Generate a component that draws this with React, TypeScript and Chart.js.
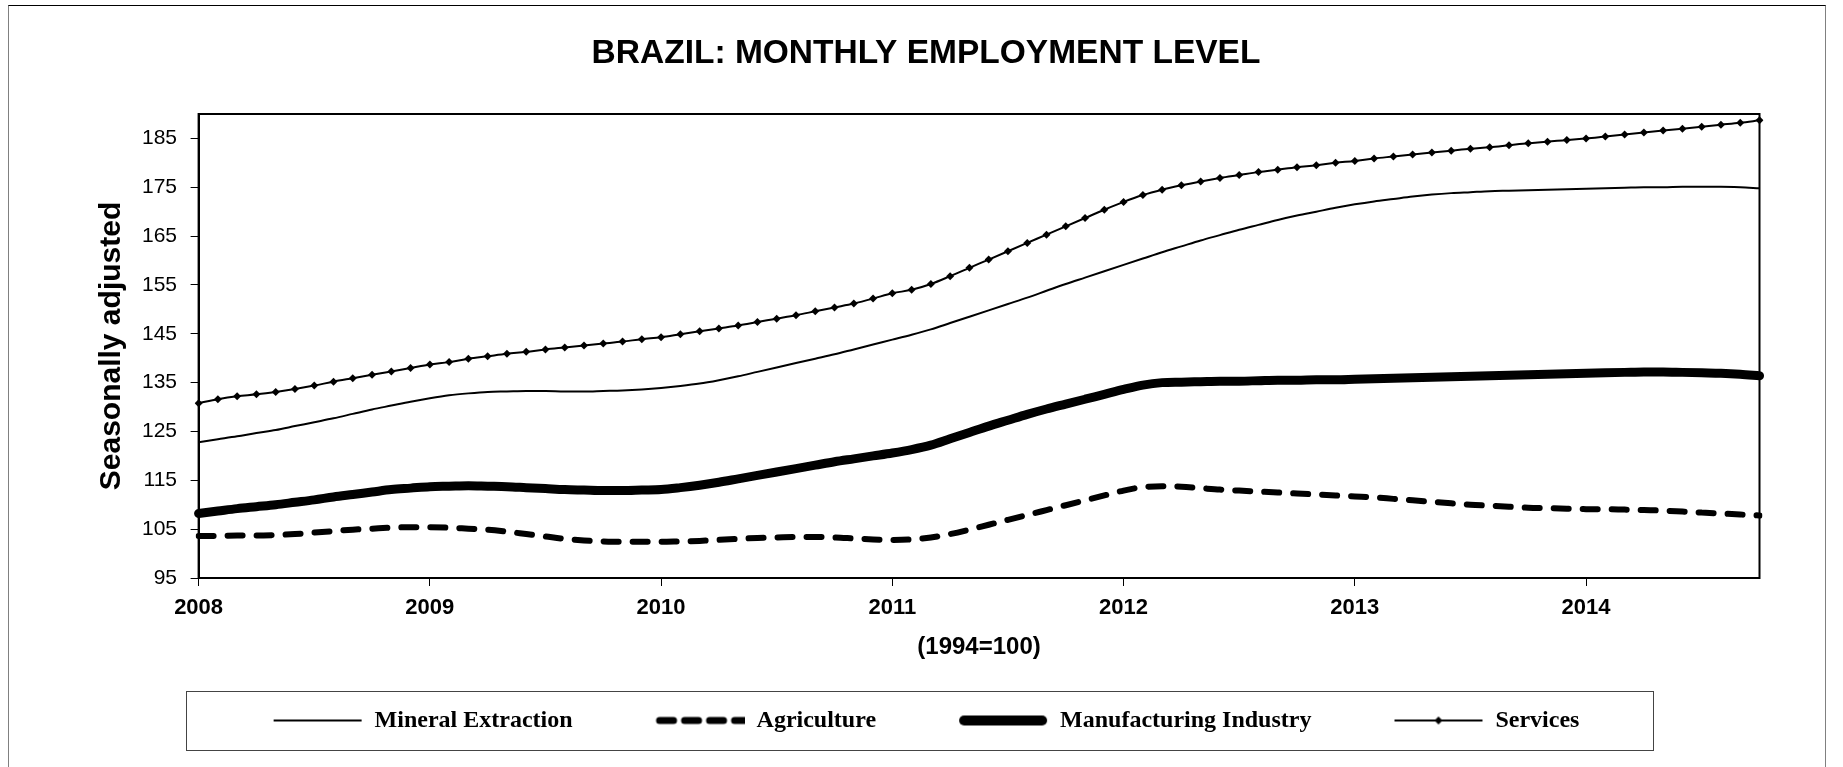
import React, { useEffect, useRef } from 'react';
import { Chart, registerables } from 'chart.js';

Chart.register(...registerables);

const TITLE = 'BRAZIL: MONTHLY EMPLOYMENT LEVEL';
const Y_TITLE = 'Seasonally adjusted';
const X_TITLE = '(1994=100)';

const years = [2008, 2009, 2010, 2011, 2012, 2013, 2014];
const monthCodes = ['01', '02', '03', '04', '05', '06', '07', '08', '09', '10', '11', '12'];
// Monthly categories Jan 2008 .. Oct 2014 (82 months)
const categories: string[] = years
  .flatMap((y) => monthCodes.map((m) => `${y}-${m}`))
  .slice(0, 82);

const yTicks = [95, 105, 115, 125, 135, 145, 155, 165, 175, 185];

const seriesNames = ['Mineral Extraction', 'Agriculture', 'Manufacturing Industry', 'Services'];

const mineral = [
  122.8, 123.4, 124.0, 124.7, 125.3, 126.1, 126.9, 127.7, 128.6, 129.5, 130.3, 131.1,
  131.8, 132.4, 132.8, 133.1, 133.2, 133.3, 133.3, 133.2, 133.2, 133.3, 133.4, 133.6,
  133.9, 134.3, 134.8, 135.5, 136.3, 137.2, 138.1, 139.0, 139.9, 140.8, 141.8, 142.8,
  143.8, 144.8, 145.9, 147.2, 148.5, 149.8, 151.1, 152.4, 153.8, 155.2, 156.5, 157.8,
  159.1, 160.4, 161.7, 162.9, 164.1, 165.2, 166.3, 167.3, 168.3, 169.2, 170.0, 170.8,
  171.5, 172.1, 172.6, 173.1, 173.5, 173.8, 174.0, 174.2, 174.3, 174.4, 174.5, 174.6,
  174.7, 174.8, 174.9, 175.0, 175.0, 175.1, 175.1, 175.1, 175.0, 174.8,
];

const agriculture = [
  103.6, 103.6, 103.7, 103.7, 103.8, 104.0, 104.3, 104.6, 104.9, 105.1, 105.3, 105.4,
  105.4, 105.3, 105.1, 104.9, 104.5, 104.0, 103.5, 103.0, 102.7, 102.5, 102.4, 102.4,
  102.4, 102.5, 102.6, 102.8, 103.0, 103.2, 103.3, 103.4, 103.4, 103.3, 103.1, 102.9,
  102.8, 102.9, 103.3, 104.0, 104.9, 105.9, 106.9, 107.9, 108.9, 109.9, 110.9, 111.9,
  112.9, 113.6, 113.8, 113.7, 113.4, 113.1, 112.9, 112.7, 112.5, 112.3, 112.1, 111.9,
  111.7, 111.5, 111.2, 110.9, 110.6, 110.3, 110.0, 109.8, 109.6, 109.4, 109.3, 109.2,
  109.1, 109.1, 109.0, 108.9, 108.8, 108.6, 108.4, 108.2, 108.0, 107.8,
];

const manufacturing = [
  108.2, 108.7, 109.2, 109.6, 110.0, 110.5, 111.0, 111.6, 112.1, 112.6, 113.1, 113.4,
  113.7, 113.8, 113.9, 113.8, 113.7, 113.5, 113.3, 113.1, 113.0, 112.9, 112.9, 113.0,
  113.1, 113.5, 114.0, 114.6, 115.3, 116.0, 116.7, 117.4, 118.1, 118.8, 119.4, 120.0,
  120.6, 121.3, 122.2, 123.5, 124.8, 126.1, 127.3, 128.5, 129.6, 130.6, 131.6, 132.6,
  133.6, 134.5, 135.0, 135.1, 135.2, 135.3, 135.3, 135.4, 135.5, 135.5, 135.6, 135.6,
  135.7, 135.8, 135.9, 136.0, 136.1, 136.2, 136.3, 136.4, 136.5, 136.6, 136.7, 136.8,
  136.9, 137.0, 137.1, 137.2, 137.2, 137.1, 137.0, 136.9, 136.7, 136.4,
];

const services = [
  130.8, 131.6, 132.2, 132.6, 133.1, 133.7, 134.4, 135.2, 135.9, 136.6, 137.3, 138.0,
  138.7, 139.2, 139.9, 140.4, 140.9, 141.3, 141.8, 142.2, 142.6, 143.0, 143.4, 143.9,
  144.3, 144.9, 145.5, 146.1, 146.7, 147.4, 148.1, 148.8, 149.6, 150.4, 151.2, 152.2,
  153.3, 154.0, 155.2, 156.8, 158.5, 160.2, 161.9, 163.6, 165.3, 167.0, 168.7, 170.4,
  172.0, 173.4, 174.5, 175.4, 176.2, 176.9, 177.5, 178.1, 178.6, 179.1, 179.5, 180.0,
  180.4, 180.9, 181.3, 181.7, 182.1, 182.5, 182.9, 183.2, 183.6, 184.0, 184.3, 184.7,
  185.0, 185.4, 185.8, 186.2, 186.6, 187.0, 187.4, 187.8, 188.2, 188.7,
];

const SANS = '"Liberation Sans", Arial, Helvetica, sans-serif';
const SERIF = '"Liberation Serif", "Times New Roman", Times, serif';

const SAMPLE_LEN = 90;
const LEGEND_GAP = 82;

function makeSample(kind: number): HTMLCanvasElement {
  const c = document.createElement('canvas');
  c.width = SAMPLE_LEN;
  c.height = 16;
  const g = c.getContext('2d') as CanvasRenderingContext2D;
  g.strokeStyle = '#000';
  g.fillStyle = '#000';
  const y = 8;
  const x0 = 1;
  const x1 = SAMPLE_LEN - 1;
  g.beginPath();
  if (kind === 0) {
    g.lineWidth = 2;
    g.moveTo(x0, y);
    g.lineTo(x1, y);
    g.stroke();
  } else if (kind === 1) {
    g.lineWidth = 7;
    g.lineCap = 'round';
    g.setLineDash([14, 11]);
    g.moveTo(x0 + 4, y);
    g.lineTo(x1, y);
    g.stroke();
  } else if (kind === 2) {
    g.lineWidth = 10;
    g.lineCap = 'round';
    g.moveTo(x0 + 5, y);
    g.lineTo(x1 - 5, y);
    g.stroke();
  } else {
    g.lineWidth = 2;
    g.moveTo(x0, y);
    g.lineTo(x1, y);
    g.stroke();
    const cx = (x0 + x1) / 2;
    g.beginPath();
    g.moveTo(cx - 4, y);
    g.lineTo(cx, y - 4);
    g.lineTo(cx + 4, y);
    g.lineTo(cx, y + 4);
    g.closePath();
    g.fill();
  }
  return c;
}

const boxPlugin = {
  id: 'boxPlugin',
  afterDraw(chart: any) {
    const { ctx, chartArea: a } = chart;
    ctx.save();
    ctx.strokeStyle = '#000';
    ctx.lineWidth = 2;
    ctx.strokeRect(a.left, a.top, a.right - a.left, a.bottom - a.top);
    const lg = chart.legend;
    if (lg && lg.legendHitBoxes && lg.legendHitBoxes.length) {
      const hb = lg.legendHitBoxes;
      const left = Math.min(...hb.map((b: any) => b.left)) - 87;
      const right = Math.max(...hb.map((b: any) => b.left + b.width)) + 73;
      const cy = hb[0].top + hb[0].height / 2;
      ctx.lineWidth = 1;
      ctx.strokeStyle = '#444';
      ctx.strokeRect(Math.round(left) + 0.5, Math.round(cy - 29.5) + 0.5, Math.round(right - left), 59);
    }
    ctx.restore();
  },
};

export default function App() {
  const ref = useRef<HTMLCanvasElement | null>(null);

  useEffect(() => {
    if (!ref.current) return;
    const samples = [0, 1, 2, 3].map(makeSample);
    const chart = new Chart(ref.current, {
      type: 'line',
      data: {
        labels: categories,
        datasets: [
          {
            label: seriesNames[0],
            data: mineral,
            borderColor: '#000',
            backgroundColor: '#000',
            borderWidth: 2,
            pointRadius: 0,
            cubicInterpolationMode: 'monotone',
            yAxisID: 'y',
          },
          {
            label: seriesNames[1],
            data: agriculture,
            borderColor: '#000',
            backgroundColor: '#000',
            borderWidth: 6,
            borderDash: [15, 14],
            borderCapStyle: 'round',
            pointRadius: 0,
            cubicInterpolationMode: 'monotone',
            yAxisID: 'y',
          },
          {
            label: seriesNames[2],
            data: manufacturing,
            borderColor: '#000',
            backgroundColor: '#000',
            borderWidth: 9,
            borderCapStyle: 'round',
            pointRadius: 0,
            cubicInterpolationMode: 'monotone',
            yAxisID: 'y',
          },
          {
            label: seriesNames[3],
            data: services,
            borderColor: '#000',
            backgroundColor: '#000',
            borderWidth: 2,
            pointStyle: 'rectRot',
            pointRadius: 4,
            pointBorderWidth: 0,
            pointBackgroundColor: '#000',
            cubicInterpolationMode: 'monotone',
            yAxisID: 'y',
          },
        ],
      } as any,
      options: {
        responsive: false,
        animation: false,
        events: [],
        layout: { padding: { top: 0, left: 18, right: 0, bottom: 43.5 } },
        plugins: {
          title: {
            display: true,
            text: TITLE,
            color: '#000',
            font: { family: SANS, size: 33.5, weight: 'bold', lineHeight: 1.2 },
            padding: { top: 28, bottom: 39.8 },
          },
          legend: {
            display: true,
            position: 'bottom',
            labels: {
              usePointStyle: true,
              pointStyleWidth: SAMPLE_LEN,
              padding: LEGEND_GAP,
              color: '#000',
              font: { family: SERIF, size: 24, weight: 'bold' },
              generateLabels: (ch: any) => {
                const items = Chart.defaults.plugins.legend.labels.generateLabels(ch);
                items.forEach((it: any, i: number) => {
                  it.pointStyle = samples[i];
                  it.lineWidth = 0;
                });
                return items;
              },
            },
          },
          tooltip: { enabled: false },
        },
        scales: {
          x: {
            type: 'category',
            offset: false,
            grid: {
              display: true,
              drawOnChartArea: false,
              drawTicks: true,
              tickLength: 8,
              color: '#000',
              lineWidth: 1,
            },
            border: { display: true, color: '#000', width: 2 },
            ticks: {
              autoSkip: false,
              maxRotation: 0,
              padding: 8.8,
              color: '#000',
              font: { family: SANS, size: 22, weight: 'bold' },
              callback: (v: any) => categories[v].slice(0, 4),
            },
            afterBuildTicks: (s: any) => {
              s.ticks = s.ticks.filter((t: any) => categories[t.value].endsWith('-01'));
            },
            afterFit: (s: any) => {
              s.height = 48.5;
            },
            title: {
              display: true,
              text: X_TITLE,
              color: '#000',
              font: { family: SANS, size: 24, weight: 'bold', lineHeight: 1.2 },
              padding: { top: 0, bottom: -34.9 },
            },
          },
          y: {
            type: 'linear',
            position: 'left',
            min: 95,
            max: 190,
            afterBuildTicks: (s: any) => {
              s.ticks = yTicks.map((v) => ({ value: v }));
            },
            grid: {
              display: true,
              drawOnChartArea: false,
              drawTicks: true,
              tickLength: 8,
              color: '#000',
              lineWidth: 1,
            },
            border: { display: true, color: '#000', width: 2 },
            ticks: {
              padding: 13.6,
              color: '#000',
              font: { family: SANS, size: 21 },
            },
            afterFit: (s: any) => {
              s.width = 171.6;
            },
            title: {
              display: true,
              text: Y_TITLE,
              color: '#000',
              font: { family: SANS, size: 30, weight: 'bold', lineHeight: 1.2 },
              padding: { top: 66.7, bottom: 0 },
            },
          },
          y2: {
            type: 'linear',
            position: 'right',
            display: true,
            grid: { display: false },
            border: { display: false },
            ticks: { display: false },
            afterFit: (s: any) => {
              s.width = 65.5;
            },
          },
        },
      } as any,
      plugins: [boxPlugin],
    });
    return () => chart.destroy();
  }, []);

  return (
    <div
      style={{
        position: 'fixed',
        left: 8,
        top: 5,
        width: 1818,
        height: 800,
        border: '1px solid #808080',
        borderTopColor: '#000',
        boxSizing: 'border-box',
        background: '#fff',
      }}
    >
      <canvas ref={ref} width={1816} height={780} style={{ display: 'block' }} />
    </div>
  );
}
